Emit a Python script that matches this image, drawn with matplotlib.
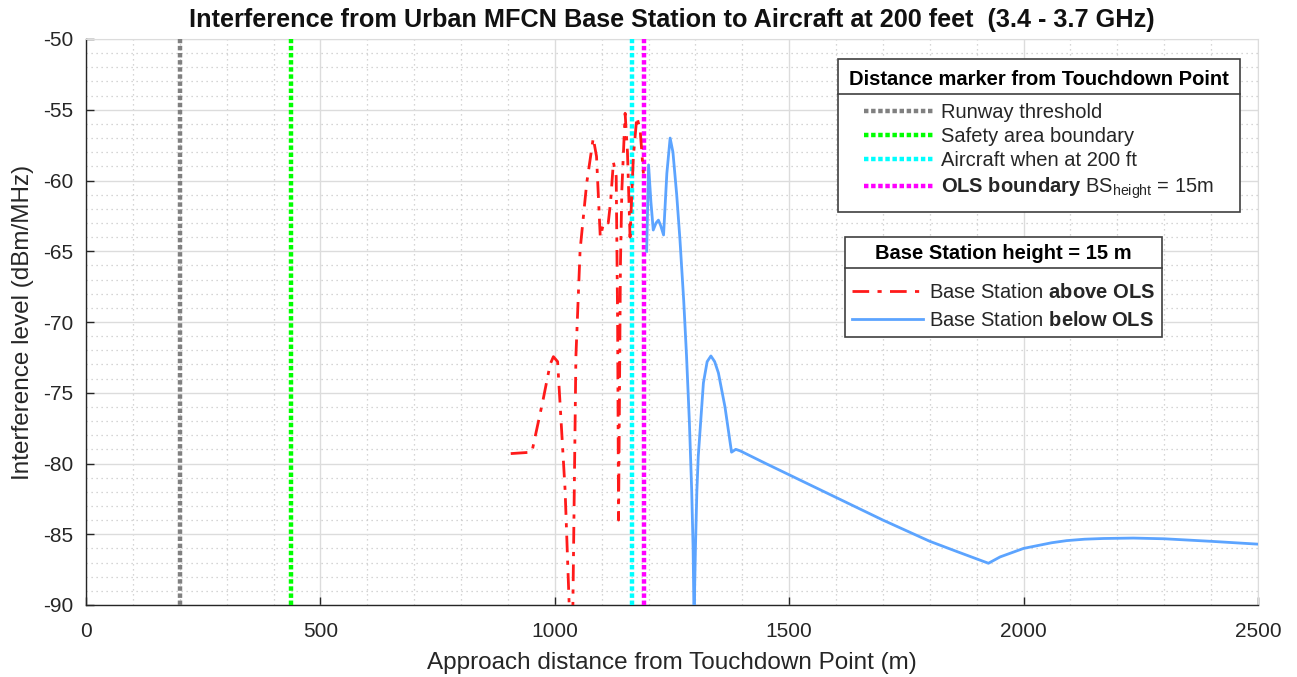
import matplotlib
matplotlib.use("Agg")
import matplotlib.pyplot as plt
from matplotlib.lines import Line2D
from matplotlib.ticker import MultipleLocator

plt.rcParams['font.family'] = ['Liberation Sans', 'DejaVu Sans']
plt.rcParams['mathtext.fontset'] = 'custom'
plt.rcParams['mathtext.rm'] = 'Liberation Sans'
plt.rcParams['mathtext.bf'] = 'Liberation Sans:bold'
plt.rcParams['mathtext.it'] = 'Liberation Sans:italic'
plt.rcParams['axes.unicode_minus'] = False

# ---------------- data ----------------
title = "Interference from Urban MFCN Base Station to Aircraft at 200 feet  (3.4 - 3.7 GHz)"
xlabel = "Approach distance from Touchdown Point (m)"
ylabel = "Interference level (dBm/MHz)"

marker_labels = ["Runway threshold", "Safety area boundary", "Aircraft when at 200 ft",
                 r"$\mathbf{OLS\ boundary}$ BS$_{\rm height}$ = 15m"]
marker_x = [200, 437, 1164, 1191]
marker_colors = ["#808080", "#00ff00", "#00ffff", "#ff00ff"]

above_x = [906, 951, 975, 990, 997, 1006, 1022, 1030.7, 1034, 1038.6, 1045, 1054, 1068, 1082,
           1089, 1097, 1102, 1107, 1114, 1119, 1125, 1131, 1134, 1136, 1138, 1140, 1143, 1150,
           1155, 1160.5, 1167.6, 1175, 1182, 1189]
above_y = [-79.3, -79.2, -75.5, -73.0, -72.45, -72.8, -81.9, -90.0, -92.0, -90.0, -72.45, -64.9,
           -60.2, -57.0, -58.3, -64.0, -63.3, -62.9, -63.0, -61.5, -58.7, -59.7, -70.0, -84.0,
           -75.0, -66.0, -60.7, -55.25, -58.0, -64.0, -58.3, -55.5, -56.4, -59.5]

below_x = [1196, 1200, 1205, 1210, 1216, 1221, 1226, 1232, 1239, 1246, 1252, 1260, 1267, 1275,
           1281, 1287, 1292, 1295, 1297, 1300, 1303, 1306, 1317, 1325, 1333, 1341, 1349, 1363,
           1377, 1386, 1395, 1450, 1500, 1600, 1700, 1800, 1860, 1925, 1950, 1975, 2000, 2030,
           2060, 2092, 2130, 2170, 2234, 2300, 2400, 2500]
below_y = [-65.0, -58.9, -61.5, -63.5, -63.0, -62.8, -63.2, -63.85, -59.5, -57.0, -58.0, -61.0,
           -64.2, -68.5, -72.4, -77.0, -81.9, -86.0, -91.0, -86.0, -82.0, -79.5, -74.3, -72.8,
           -72.4, -72.8, -73.6, -76.0, -79.2, -79.0, -79.1, -80.0, -80.8, -82.4, -84.0, -85.5,
           -86.25, -87.05, -86.6, -86.3, -86.0, -85.8, -85.6, -85.45, -85.35, -85.3, -85.27,
           -85.32, -85.5, -85.7]

series_labels = [r"Base Station $\mathbf{above\ OLS}$", r"Base Station $\mathbf{below\ OLS}$"]

# ---------------- figure ----------------
fig = plt.figure(figsize=(12.97, 6.77), dpi=100)
ax = fig.add_axes([86/1297, 1-605/677, (1258-86)/1297, (605-39)/677])

ax.set_xlim(0, 2500)
ax.set_ylim(-90, -50)
ax.xaxis.set_major_locator(MultipleLocator(500))
ax.xaxis.set_minor_locator(MultipleLocator(100))
ax.yaxis.set_major_locator(MultipleLocator(5))
ax.yaxis.set_minor_locator(MultipleLocator(1))
ax.grid(which='major', color='#dcdcdc', linewidth=1.0, linestyle='-')
ax.grid(which='minor', color='#c8c8c8', linewidth=0.9, linestyle=(0, (1, 3)))
ax.set_axisbelow(True)

ax.tick_params(which='major', direction='in', length=6, width=1, colors='#262626',
               labelsize=15, top=False, right=False)
ax.tick_params(axis='x', which='major', pad=12)
ax.tick_params(axis='y', which='major', pad=9)
ax.tick_params(which='minor', length=0)
for s in ['left', 'bottom']:
    ax.spines[s].set_color('#262626')
    ax.spines[s].set_linewidth(1.0)
for s in ['top', 'right']:
    ax.spines[s].set_color('#dcdcdc')

vlines = []
for xv, c in zip(marker_x, marker_colors):
    h = ax.axvline(xv, color=c, linestyle=(0, (1, 0.6)), linewidth=3.2, zorder=3)
    vlines.append(h)

l1, = ax.plot(above_x, above_y, color='#ff1a1a', linestyle=(0, (6, 3, 1.5, 3)),
              linewidth=2.0, zorder=4)
l2, = ax.plot(below_x, below_y, color='#5ca4ff', linestyle='-', linewidth=2.0, zorder=4)

ax.set_title(title, fontsize=18.2, fontweight='bold', pad=9, color='#111111')
ax.set_xlabel(xlabel, fontsize=17.5, color='#262626', labelpad=8)
ax.set_ylabel(ylabel, fontsize=17.5, color='#262626', labelpad=7)

leg1 = ax.legend(vlines, marker_labels, loc='upper right', bbox_to_anchor=(0.9846, 0.9647),
                 borderaxespad=0, fontsize=14.5, title="Distance marker from Touchdown Point",
                 title_fontproperties={'weight': 'bold', 'size': 14.5},
                 fancybox=False, framealpha=1, edgecolor='#404040', handlelength=3.5,
                 handletextpad=0.3, labelspacing=0.26, borderpad=0.55)
leg1.get_frame().set_linewidth(1.2)
leg1._legend_box.sep = 10
for t in leg1.get_texts():
    t.set_color('#262626')
ax.add_artist(leg1)

leg2 = ax.legend([l1, l2], series_labels, loc='upper left', bbox_to_anchor=(0.6476, 0.650),
                 borderaxespad=0, fontsize=14.5, title="Base Station height = 15 m",
                 title_fontproperties={'weight': 'bold', 'size': 14.5},
                 fancybox=False, framealpha=1, edgecolor='#404040', handlelength=3.5,
                 handletextpad=0.3, labelspacing=0.45, borderpad=0.35)
leg2.get_frame().set_linewidth(1.2)
leg2._legend_box.sep = 14
for t in leg2.get_texts():
    t.set_color('#262626')

fig.canvas.draw()
inv = fig.transFigure.inverted()
for leg in (leg1, leg2):
    fb = leg.get_frame().get_window_extent()
    tb = leg.get_title().get_window_extent()
    yline = tb.y0 - 5
    (x0, y0) = inv.transform((fb.x0, yline))
    (x1, _) = inv.transform((fb.x1, yline))
    fig.add_artist(Line2D([x0, x1], [y0, y0], color='#404040', linewidth=1.2,
                          transform=fig.transFigure, zorder=10))

fig.savefig("out.png", dpi=100)
